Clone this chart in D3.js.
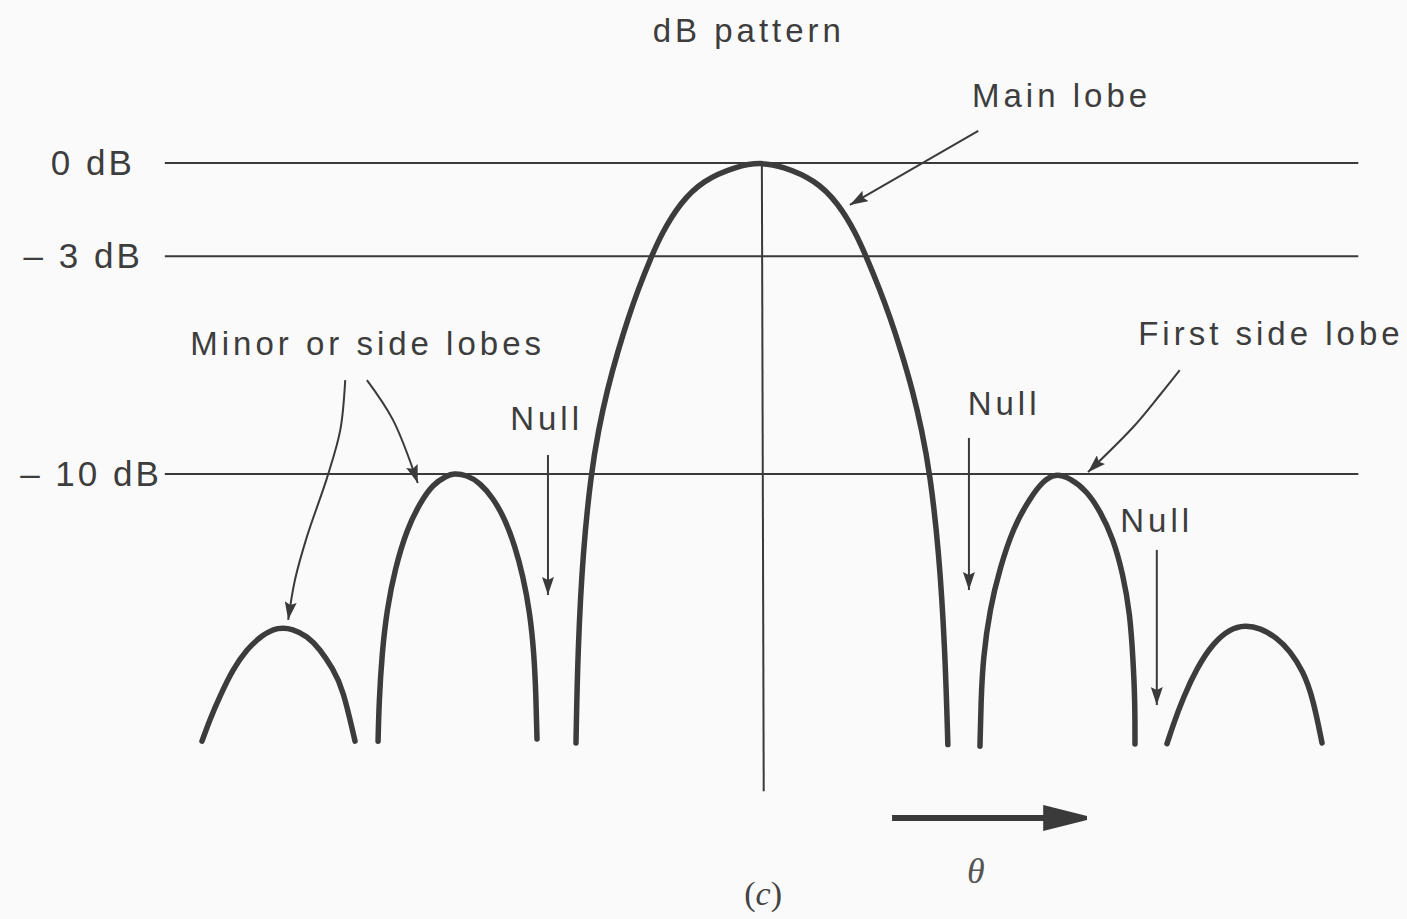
<!DOCTYPE html>
<html>
<head>
<meta charset="utf-8">
<script src="https://cdn.jsdelivr.net/npm/d3@7"></script>
<style>
  body { margin: 0; background: #fafafa; }
  svg { display: block; }
  .label { font-family: "Liberation Sans", Arial, sans-serif; font-size: 33px; letter-spacing: 4px; fill: #3d3d3d; }
  .axis text { font-family: "Liberation Sans", Arial, sans-serif; font-size: 35px; letter-spacing: 3px; fill: #3d3d3d; }
  .grid { stroke: #3a3a3a; stroke-width: 2; }
  .lobe { fill: none; stroke: #3c3c3c; stroke-width: 5.5; stroke-linecap: round; stroke-linejoin: round; }
  .pointer { fill: none; stroke: #3a3a3a; stroke-width: 2; }
</style>
</head>
<body>
<div id="chart"></div>
<script>
// dB levels drawn as horizontal reference lines
var dbLevels = [0, -3, -10];
var dbLabels = ['0 dB', '\u2013 3 dB', '\u2013 10 dB'];

// lobes, [theta (deg), level (dB)]
var farLeftLobe = [[-90, -18.59], [-88.71, -17.88], [-87.1, -17.14], [-85, -16.27], [-82.74, -15.63],
    [-80.32, -15.18], [-77.74, -14.92], [-75.32, -14.98], [-73.06, -15.21], [-70.97, -15.63],
    [-68.87, -16.27], [-67.26, -16.91], [-65.32, -18.59]];
var leftSideLobe = [[-61.6, -18.59], [-61.45, -17.36], [-60.97, -15.76], [-60.16, -14.34], [-58.87, -13.05],
    [-56.94, -11.77], [-54.84, -10.93], [-52.74, -10.32], [-50.48, -10.06], [-49.52, -9.98],
    [-47.26, -10.03], [-45.16, -10.29], [-43.06, -10.77], [-41.13, -11.45], [-39.52, -12.32],
    [-38.23, -13.28], [-37.1, -14.47], [-36.45, -15.76], [-36.13, -17.14], [-35.97, -18.52]];
var mainLobe = [[-29.68, -18.65], [-29.39, -15.66], [-28.55, -12.44], [-27.23, -9.97], [-26.06, -8.59],
    [-24.65, -7.3], [-22.87, -6.01], [-21.19, -4.95], [-19.68, -4.08], [-17.55, -3.02], [-15.81, -2.25],
    [-12.9, -1.29], [-9.19, -0.55], [-3.71, -0.1], [0, 0.02], [3.6, -0.1], [8.95, -0.55],
    [12.6, -1.29], [15.45, -2.25], [17.15, -3.02], [19.35, -4.08], [20.95, -4.95], [22.7, -6.01],
    [24.6, -7.3], [26.1, -8.59], [27.4, -9.97], [28.85, -12.44], [29.85, -15.66], [30.3, -18.7]];
var rightSideLobe = [[35.48, -18.75], [35.65, -17.3], [35.97, -15.92], [37.1, -14.31], [38.71, -13.02],
    [40.81, -11.74], [43.55, -10.77], [45.65, -10.23], [47.58, -9.98], [50, -10.13], [52.74, -10.55],
    [54.84, -11.19], [56.94, -12.06], [58.55, -13.22], [59.68, -14.5], [60.16, -15.92],
    [60.48, -17.3], [60.48, -18.68]];
var farRightLobe = [[65.65, -18.67], [66.61, -18.08], [68.23, -17.2], [70.48, -16.23], [73.06, -15.44],
    [75.81, -14.98], [78.23, -14.86], [80.65, -14.95], [83.39, -15.27], [85.48, -15.69],
    [87.58, -16.33], [89.19, -17.2], [90.65, -18.65]];

// annotation texts and their anchors in (theta, dB)
var labelTexts = ['dB pattern', 'Main lobe', 'Minor or side lobes', 'First side lobe', 'Null', 'Null', 'Null'];
var labelTheta = [-1.8, 34.2, -91.9, 61, -40.3, 33.5, 58.1];
var labelDb = [3.89, 1.8, -6.17, -5.85, -8.59, -8.1, -11.86];

// pointer arrows, each a list of (theta, dB)
var pointers = [
    [[35.2, 1.03], [14.5, -1.35]],
    [[-66.9, -6.98], [-67.7, -8.59], [-69.8, -10.1], [-73.1, -12.03], [-75, -13.4], [-76.1, -14.69]],
    [[-63.4, -6.98], [-59.2, -8.26], [-55.2, -10.29]],
    [[-34.2, -9.39], [-34.2, -13.89]],
    [[33.7, -8.84], [33.7, -13.73]],
    [[64, -12.44], [64, -17.43]],
    [[67.7, -6.66], [64.5, -7.46], [60.2, -8.49], [52.9, -9.94]]
];

var width = 1407, height = 919;

var svg = d3.select('#chart').append('svg')
    .attr('width', width)
    .attr('height', height);

var x = d3.scaleLinear().domain([-90, 90]).range([202, 1318]);
var y = d3.scaleLinear().domain([0, -10]).range([163, 474]);

var defs = svg.append('defs');
defs.append('marker')
    .attr('id', 'head')
    .attr('viewBox', '0 0 18 12')
    .attr('refX', 18).attr('refY', 6)
    .attr('markerWidth', 18).attr('markerHeight', 12)
    .attr('markerUnits', 'userSpaceOnUse')
    .attr('orient', 'auto')
    .append('path').attr('d', 'M0,0 L18,6 L0,12 L3,6 Z').attr('fill', '#3a3a3a');
defs.append('marker')
    .attr('id', 'bighead')
    .attr('viewBox', '0 0 44 26')
    .attr('refX', 2).attr('refY', 13)
    .attr('markerWidth', 44).attr('markerHeight', 26)
    .attr('markerUnits', 'userSpaceOnUse')
    .attr('orient', 'auto')
    .append('path').attr('d', 'M0,0 L44,11 Q46,13 44,15 L0,26 Z').attr('fill', '#3a3a3a');

// reference lines
svg.selectAll('.grid')
    .data(dbLevels)
    .enter()
    .append('line')
    .attr('class', 'grid')
    .attr('x1', x(-96))
    .attr('x2', x(96.5))
    .attr('y1', d => y(d))
    .attr('y2', d => y(d));

// left labels
var yAxis = d3.axisLeft(y)
    .tickValues(dbLevels)
    .tickFormat((d, i) => dbLabels[i])
    .tickSize(0)
    .tickPadding(18);

svg.append('g')
    .attr('class', 'axis')
    .attr('transform', 'translate(' + x(-96) + ',0)')
    .call(yAxis)
    .call(g => g.select('.domain').remove())
    .selectAll('text')
    .attr('dx', (d, i) => [-12, -4, 15][i]);

// boresight line
svg.append('line')
    .attr('class', 'grid')
    .attr('x1', x(0.3)).attr('x2', x(0.6))
    .attr('y1', y(0)).attr('y2', y(-20.2));

// lobes: smoothed through the read points
var lobeLine = d3.line()
    .x(d => x(d[0]))
    .y(d => y(d[1]))
    .curve(d3.curveBasis);

svg.selectAll('.lobe')
    .data([farLeftLobe, leftSideLobe, mainLobe, rightSideLobe, farRightLobe])
    .enter()
    .append('path')
    .attr('class', 'lobe')
    .attr('d', lobeLine);

// pointers
var line = d3.line()
    .x(d => x(d[0]))
    .y(d => y(d[1]))
    .curve(d3.curveCatmullRom.alpha(0.5));

svg.selectAll('.pointer')
    .data(pointers)
    .enter()
    .append('path')
    .attr('class', 'pointer')
    .attr('d', line)
    .attr('marker-end', 'url(#head)');

// labels
svg.selectAll('.label')
    .data(labelTexts)
    .enter()
    .append('text')
    .attr('class', 'label')
    .attr('x', (d, i) => x(labelTheta[i]))
    .attr('y', (d, i) => y(labelDb[i]))
    .attr('text-anchor', (d, i) => i === 0 ? 'middle' : 'start')
    .text(d => d);

// theta direction arrow
svg.append('line')
    .attr('x1', x(21.3)).attr('x2', x(46))
    .attr('y1', y(-21.06)).attr('y2', y(-21.06))
    .attr('stroke', '#3a3a3a')
    .attr('stroke-width', 6)
    .attr('marker-end', 'url(#bighead)');

svg.append('text')
    .attr('x', x(34.8))
    .attr('y', y(-23.15))
    .attr('text-anchor', 'middle')
    .style('font-family', '"Liberation Serif", "DejaVu Serif", serif')
    .style('font-style', 'italic')
    .style('font-size', '36px')
    .style('fill', '#555')
    .text('\u03b8');

var cap = svg.append('text')
    .attr('x', x(0.5))
    .attr('y', y(-23.86))
    .attr('text-anchor', 'middle')
    .style('font-family', '"Liberation Serif", "DejaVu Serif", serif')
    .style('font-size', '34px')
    .style('fill', '#444');
cap.append('tspan').text('(');
cap.append('tspan').style('font-style', 'italic').text('c');
cap.append('tspan').text(')');
</script>
</body>
</html>
